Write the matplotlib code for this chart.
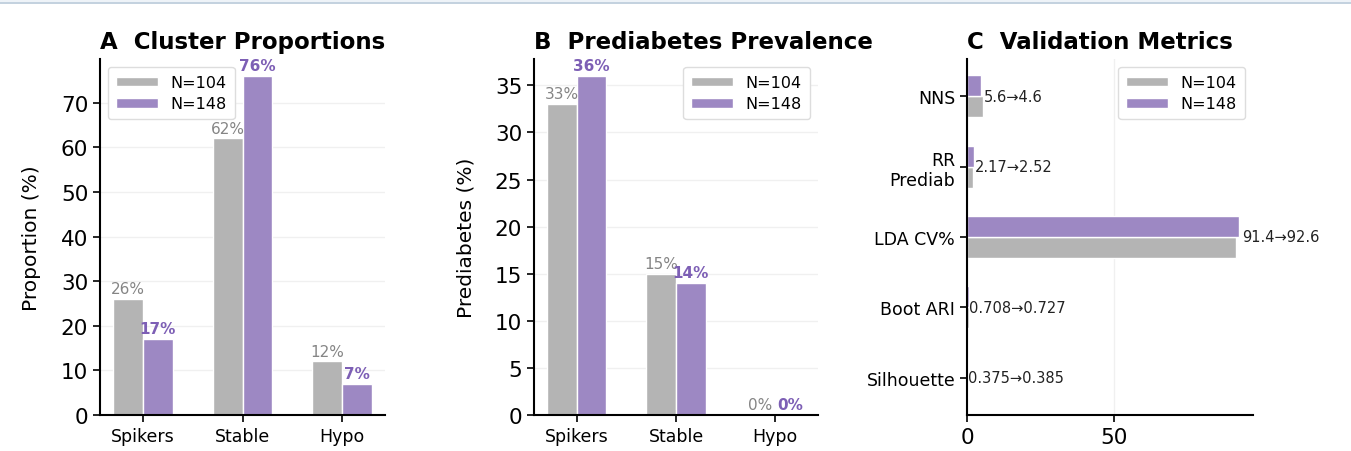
import numpy as np
import matplotlib
matplotlib.use("Agg")
import matplotlib.pyplot as plt
from matplotlib.patches import Rectangle
from matplotlib.lines import Line2D

# ----------------------------------------------------------------------
# data
# ----------------------------------------------------------------------
clusters = ["Spikers", "Stable", "Hypo"]
series_labels = ["N=104", "N=148"]

prop_104 = [26, 62, 12]
prop_148 = [17, 76, 7]

prediab_104 = [33, 15, 0]
prediab_148 = [36, 14, 0]

metrics = ["NNS", "RR\nPrediab", "LDA CV%", "Boot ARI", "Silhouette"]
metric_104 = [5.6, 2.17, 91.4, 0.708, 0.375]
metric_148 = [4.6, 2.52, 92.6, 0.727, 0.385]
metric_text = ["5.6→4.6", "2.17→2.52", "91.4→92.6", "0.708→0.727", "0.375→0.385"]

GREY = "#b4b4b4"
PURPLE = "#9d88c3"
GREY_TXT = "#858585"
PURPLE_TXT = "#7d5fb5"

plt.rcParams['font.family'] = ['DejaVu Sans']

fig = plt.figure(figsize=(13.51, 4.52), dpi=100)

# thin header strip along the top edge
fig.add_artist(Rectangle((0, 1 - 3 / 452), 1, 3 / 452, transform=fig.transFigure,
                         color="#eef3f8", lw=0))
fig.add_artist(Line2D([0, 1], [1 - 3.5 / 452] * 2, transform=fig.transFigure,
                      color="#b9cad9", lw=1.2))

W, H = 1351, 452
def add_ax(left, right, top=60, bottom=416):
    return fig.add_axes([left / W, 1 - bottom / H, (right - left) / W, (bottom - top) / H])

axA = add_ax(100, 385)
axB = add_ax(534, 818)
axC = add_ax(967, 1253)

width = 0.3
x = np.arange(len(clusters))
LEG = dict(fontsize=11.5, handlelength=2.6, handleheight=0.55, edgecolor="#dddddd",
           framealpha=1, borderpad=0.5, labelspacing=0.4)


def style(ax):
    for s in ["top", "right"]:
        ax.spines[s].set_visible(False)
    for s in ["left", "bottom"]:
        ax.spines[s].set_linewidth(1.5)
    ax.set_axisbelow(True)


def grouped_bars(ax, v1, v2, ylabel, title, legend_loc):
    ax.bar(x - width / 2, v1, width, color=GREY, edgecolor="white", lw=1, label=series_labels[0])
    ax.bar(x + width / 2, v2, width, color=PURPLE, edgecolor="white", lw=1, label=series_labels[1])
    off = max(v1 + v2) * 0.008
    for xi, v in zip(x, v1):
        ax.text(xi - width / 2, v + off, f"{v}%", ha="center", va="bottom",
                fontsize=11, color=GREY_TXT)
    for xi, v in zip(x, v2):
        ax.text(xi + width / 2, v + off, f"{v}%", ha="center", va="bottom",
                fontsize=11, color=PURPLE_TXT, fontweight="semibold")
    ax.set_ylim(0, max(v1 + v2) * 1.05)
    ax.set_xticks(x)
    ax.set_xticklabels(clusters, fontsize=12.5)
    ax.tick_params(axis="y", labelsize=15.5, width=1.2, length=5)
    ax.tick_params(axis="x", width=1.2, length=5)
    ax.set_ylabel(ylabel, fontsize=14.5, labelpad=14)
    ax.set_title(title, loc="left", fontsize=16.5, fontweight="bold", pad=8)
    ax.grid(axis="y", color="#f0f0f0", lw=1)
    ax.legend(loc=legend_loc, **LEG)
    style(ax)


grouped_bars(axA, prop_104, prop_148, "Proportion (%)", "A  Cluster Proportions", "upper left")
grouped_bars(axB, prediab_104, prediab_148, "Prediabetes (%)", "B  Prediabetes Prevalence", "upper right")

# panel C: horizontal bars, first metric at the top
y = np.arange(len(metrics))
axC.barh(y + width / 2, metric_104, width, color=GREY, edgecolor="white", lw=1, label=series_labels[0])
axC.barh(y - width / 2, metric_148, width, color=PURPLE, edgecolor="white", lw=1, label=series_labels[1])
for yi, a, b, t in zip(y, metric_104, metric_148, metric_text):
    axC.text(max(a, b) * 1.01, yi, t, ha="left", va="center", fontsize=10.5, color="#222222")
axC.set_yticks(y)
axC.set_yticklabels(metrics, fontsize=12.5)
axC.invert_yaxis()
axC.set_xticks([0, 50])
axC.tick_params(axis="x", labelsize=15.5, width=1.2, length=5)
axC.tick_params(axis="y", width=1.2, length=5)
axC.grid(axis="x", color="#f0f0f0", lw=1)
axC.set_title("C  Validation Metrics", loc="left", fontsize=16.5, fontweight="bold", pad=8)
axC.legend(loc="upper right", **LEG)
style(axC)

fig.savefig("out.png", dpi=100)
